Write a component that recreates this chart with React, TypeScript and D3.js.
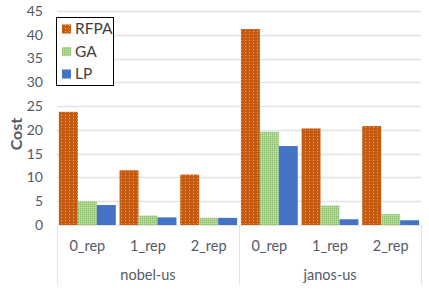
import * as d3 from 'd3';
import React, { useEffect, useRef } from 'react';

const groups = ['nobel-us', 'janos-us'];
const reps = ['0_rep', '1_rep', '2_rep'];
const seriesNames = ['RFPA', 'GA', 'LP'];
const rfpa = [23.8, 11.5, 10.6, 41.2, 20.3, 20.8];
const ga = [5.0, 2.0, 1.5, 19.6, 4.1, 2.3];
const lp = [4.2, 1.6, 1.5, 16.6, 1.2, 1.0];
const yTicks = [0, 5, 10, 15, 20, 25, 30, 35, 40, 45];

const W = 429;
const H = 291;
const FONT = 'Lato, "Open Sans", sans-serif';
const TEXT = '#535a66';

function App() {
  const svgRef = useRef<SVGSVGElement>(null);

  useEffect(() => {
    const svg = d3.select(svgRef.current).attr('width', W).attr('height', H);
    svg.selectAll('*').remove();

    const left = 57;
    const right = 421;
    const top = 11;
    const bottom = 225;

    // patterns
    const defs = svg.append('defs');
    const pOrange = defs
      .append('pattern')
      .attr('id', 'pat-rfpa')
      .attr('patternUnits', 'userSpaceOnUse')
      .attr('width', 4)
      .attr('height', 3);
    pOrange.append('rect').attr('width', 4).attr('height', 3).attr('fill', '#c55a11');
    pOrange.append('rect').attr('x', 1).attr('y', 1).attr('width', 1).attr('height', 1).attr('fill', '#e9a06d');

    const pGreen = defs
      .append('pattern')
      .attr('id', 'pat-ga')
      .attr('patternUnits', 'userSpaceOnUse')
      .attr('width', 2)
      .attr('height', 2);
    pGreen.append('rect').attr('width', 2).attr('height', 2).attr('fill', '#a9d18e');
    pGreen.append('rect').attr('width', 1).attr('height', 1).attr('fill', '#8fbf6f');
    pGreen.append('rect').attr('x', 1).attr('y', 1).attr('width', 1).attr('height', 1).attr('fill', '#c2e0ad');

    const fills = ['url(#pat-rfpa)', 'url(#pat-ga)', '#4472c4'];
    const values = [rfpa, ga, lp];

    const y = d3.scaleLinear().domain([0, 45]).range([bottom, top]);
    const cats = groups.flatMap((g) => reps.map((r) => `${g}|${r}`));
    const x = d3.scaleBand<string>().domain(cats).range([left, right]);
    const inner = d3
      .scaleBand<string>()
      .domain(seriesNames)
      .range([0, x.bandwidth()])
      .paddingInner(0)
      .paddingOuter(0.1);

    // gridlines
    svg
      .append('g')
      .selectAll('line')
      .data(yTicks.slice(1))
      .join('line')
      .attr('x1', left)
      .attr('x2', right)
      .attr('y1', (d) => Math.round(y(d)) + 0.5)
      .attr('y2', (d) => Math.round(y(d)) + 0.5)
      .attr('stroke', '#e3e3e6')
      .attr('stroke-width', 1.3);

    // y tick labels
    svg
      .append('g')
      .selectAll('text')
      .data(yTicks)
      .join('text')
      .attr('x', 43)
      .attr('y', (d) => y(d))
      .attr('dy', '0.35em')
      .attr('text-anchor', 'end')
      .attr('font-family', FONT)
      .attr('font-size', 14)
      .attr('fill', TEXT)
      .text((d) => d);

    // bars
    seriesNames.forEach((s, si) => {
      svg
        .append('g')
        .selectAll('rect')
        .data(values[si])
        .join('rect')
        .attr('x', (d, i) => (x(cats[i]) as number) + (inner(s) as number))
        .attr('width', inner.bandwidth())
        .attr('y', (d) => y(d))
        .attr('height', (d) => bottom - y(d))
        .attr('fill', fills[si]);
    });

    // x axis baseline and separators
    svg
      .append('line')
      .attr('x1', left)
      .attr('x2', right)
      .attr('y1', bottom + 0.5)
      .attr('y2', bottom + 0.5)
      .attr('stroke', '#e3e3e6');
    const seps = [left, x(cats[3]) as number, right];
    svg
      .append('g')
      .selectAll('line')
      .data(seps)
      .join('line')
      .attr('x1', (d) => Math.round(d) + 0.5)
      .attr('x2', (d) => Math.round(d) + 0.5)
      .attr('y1', bottom)
      .attr('y2', 285)
      .attr('stroke', '#e3e3e6');

    // category labels
    svg
      .append('g')
      .selectAll('text')
      .data(cats)
      .join('text')
      .attr('x', (d) => (x(d) as number) + x.bandwidth() / 2)
      .attr('y', 246)
      .attr('dy', '0.35em')
      .attr('text-anchor', 'middle')
      .attr('font-family', FONT)
      .attr('font-size', 14.5)
      .attr('fill', TEXT)
      .text((d) => d.split('|')[1]);

    svg
      .append('g')
      .selectAll('text')
      .data(groups)
      .join('text')
      .attr('x', (d, i) => (x(cats[i * 3 + 1]) as number) + x.bandwidth() / 2)
      .attr('y', 275)
      .attr('dy', '0.35em')
      .attr('text-anchor', 'middle')
      .attr('font-family', FONT)
      .attr('font-size', 14.5)
      .attr('fill', TEXT)
      .text((d) => d);

    // axis title
    svg
      .append('text')
      .attr('transform', `translate(16,134) rotate(-90)`)
      .attr('dy', '0.35em')
      .attr('text-anchor', 'middle')
      .attr('font-family', FONT)
      .attr('font-size', 16)
      .attr('font-weight', 'bold')
      .attr('fill', TEXT)
      .text('Cost');

    // legend
    const lg = svg.append('g');
    lg.append('rect')
      .attr('x', 56.5)
      .attr('y', 17.5)
      .attr('width', 57)
      .attr('height', 68)
      .attr('fill', '#fff')
      .attr('stroke', '#000')
      .attr('stroke-width', 1);
    seriesNames.forEach((s, i) => {
      const cy = 29 + i * 22.5;
      lg.append('rect')
        .attr('x', 62)
        .attr('y', cy - 4.5)
        .attr('width', 9)
        .attr('height', 9)
        .attr('fill', fills[i]);
      lg.append('text')
        .attr('x', 75)
        .attr('y', cy)
        .attr('dy', '0.35em')
        .attr('font-family', FONT)
        .attr('font-size', 15.5)
        .attr('fill', '#404040')
        .text(s);
    });
  }, []);

  return (
    <div style={{ position: 'absolute', left: 0, top: 0 }}>
      <svg ref={svgRef} style={{ display: 'block' }} />
    </div>
  );
}

export default App;
